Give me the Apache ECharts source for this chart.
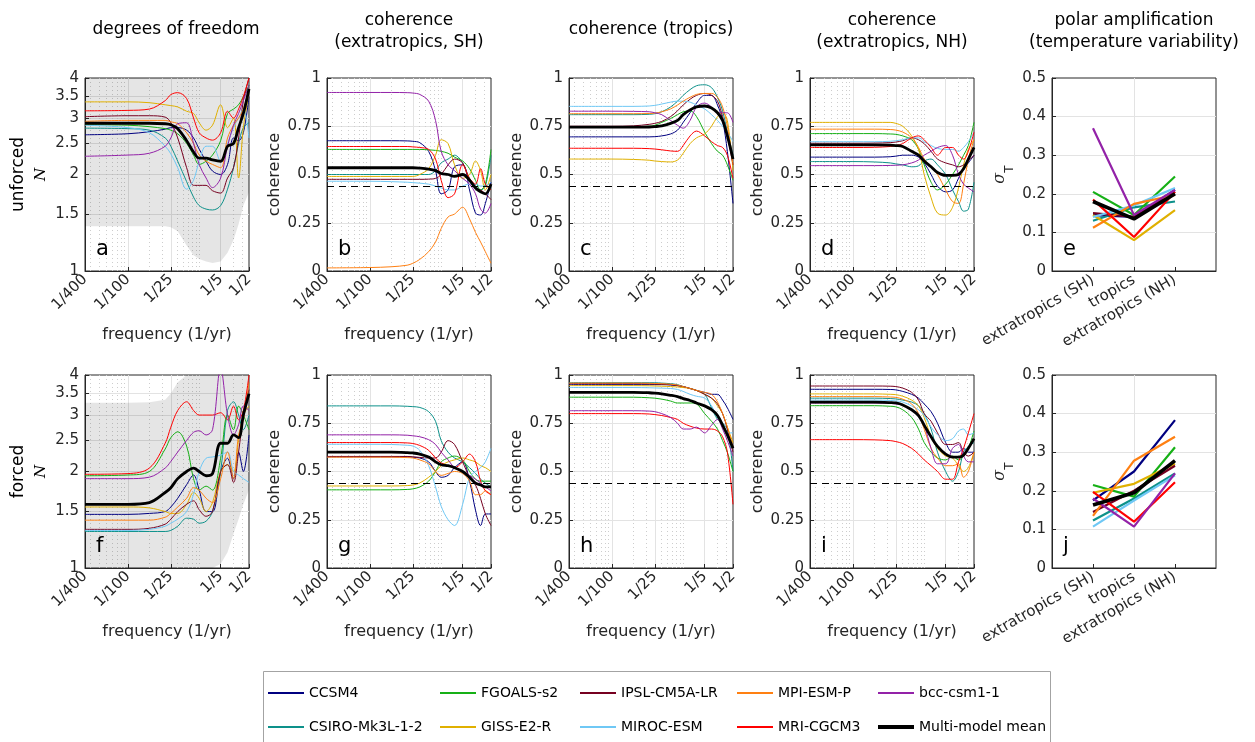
<!DOCTYPE html>
<html>
<head>
<meta charset="utf-8">
<script src="https://cdn.jsdelivr.net/npm/echarts@6/dist/echarts.min.js"></script>
<style>
  html, body { margin: 0; padding: 0; background: #ffffff; }
  #chart { width: 1255px; height: 742px; }
</style>
</head>
<body>
<div id="chart"></div>
<script>
// ---------- data ----------
// spectral sampling points, given as periods (years); frequency = 1 / period
const periods = [400, 100, 50, 30, 25, 20, 15, 12, 10, 8, 6.5, 5, 4, 3.3, 2.8, 2.4, 2];
const tickPeriods = [400, 100, 25, 5, 2];
const tickLabels = ['1/400', '1/100', '1/25', '1/5', '1/2'];
const minorFreqs = [0.003, 0.004, 0.005, 0.006, 0.007, 0.008, 0.009, 0.02, 0.03, 0.05, 0.06, 0.07, 0.08, 0.09, 0.1, 0.3, 0.4];
const dofTicks = [1, 1.5, 2, 2.5, 3, 3.5, 4];
const regions = ['extratropics (SH)', 'tropics', 'extratropics (NH)'];
const sigLevel = 0.44;

// model order for every table below
const models = ['CCSM4', 'CSIRO-Mk3L-1-2', 'FGOALS-s2', 'GISS-E2-R', 'IPSL-CM5A-LR',
                'MIROC-ESM', 'MPI-ESM-P', 'MRI-CGCM3', 'bcc-csm1-1', 'Multi-model mean'];

// (a) degrees of freedom, unforced
const dofUnforced = [
  [2.66, 2.68, 2.72, 2.77, 2.8, 2.8, 2.75, 2.6, 2.4, 2.2, 2.05, 2.0, 2.15, 2.6, 2.55, 2.7, 3.5],
  [2.79, 2.78, 2.75, 2.6, 2.45, 2.2, 1.9, 1.7, 1.6, 1.56, 1.55, 1.6, 1.8, 2.1, 2.5, 2.8, 2.9],
  [2.86, 2.85, 2.82, 2.78, 2.75, 2.68, 2.5, 2.3, 2.15, 2.2, 2.3, 2.55, 3.1, 3.2, 3.3, 3.5, 3.8],
  [3.37, 3.37, 3.35, 3.3, 3.28, 3.25, 3.15, 3.1, 2.9, 2.75, 2.85, 3.3, 2.8, 3.0, 1.95, 2.8, 3.6],
  [3.03, 3.05, 3.05, 3.02, 2.9, 2.6, 2.1, 1.85, 1.85, 1.85, 1.78, 1.75, 1.95, 2.1, 2.6, 3.4, 4.0],
  [2.85, 2.8, 2.7, 2.45, 2.32, 2.1, 1.8, 1.92, 2.2, 2.45, 2.45, 2.2, 2.5, 2.8, 3.0, 3.2, 2.6],
  [2.93, 2.95, 2.95, 2.95, 2.92, 2.88, 2.7, 2.5, 2.3, 2.2, 2.15, 2.1, 2.6, 2.85, 3.0, 3.2, 3.7],
  [3.16, 3.17, 3.2, 3.4, 3.55, 3.6, 3.45, 3.0, 2.7, 2.6, 2.56, 2.7, 3.15, 3.0, 3.2, 3.5, 4.0],
  [2.28, 2.3, 2.33, 2.45, 2.6, 2.88, 2.9, 2.5, 2.15, 1.95, 1.82, 1.95, 2.45, 2.85, 3.1, 3.4, 3.8],
  [2.89, 2.89, 2.89, 2.88, 2.86, 2.78, 2.55, 2.35, 2.25, 2.25, 2.22, 2.2, 2.45, 2.5, 2.8, 3.1, 3.7]
];
const dofUnforcedLow  = [1.38, 1.38, 1.38, 1.38, 1.37, 1.33, 1.2, 1.12, 1.09, 1.07, 1.06, 1.07, 1.14, 1.25, 1.4, 1.6, 1.76];
const dofUnforcedHigh = [4, 4, 4, 4, 4, 4, 4, 4, 4, 4, 4, 4, 4, 4, 4, 4, 4];

// (b) coherence, extratropics SH, unforced
const cohSHUnforced = [
  [0.675, 0.675, 0.675, 0.674, 0.672, 0.665, 0.62, 0.52, 0.40, 0.42, 0.54, 0.55, 0.42, 0.30, 0.29, 0.35, 0.46],
  [0.5, 0.5, 0.5, 0.5, 0.5, 0.5, 0.5, 0.52, 0.56, 0.58, 0.6, 0.56, 0.48, 0.44, 0.42, 0.44, 0.6],
  [0.63, 0.63, 0.63, 0.63, 0.63, 0.63, 0.628, 0.625, 0.62, 0.61, 0.59, 0.57, 0.53, 0.47, 0.42, 0.45, 0.63],
  [0.49, 0.49, 0.49, 0.49, 0.49, 0.5, 0.53, 0.6, 0.68, 0.66, 0.55, 0.48, 0.5, 0.57, 0.52, 0.42, 0.5],
  [0.475, 0.475, 0.475, 0.475, 0.475, 0.475, 0.476, 0.48, 0.5, 0.55, 0.58, 0.56, 0.47, 0.43, 0.42, 0.40, 0.37],
  [0.465, 0.465, 0.463, 0.46, 0.458, 0.455, 0.45, 0.44, 0.43, 0.42, 0.42, 0.44, 0.45, 0.45, 0.44, 0.44, 0.46],
  [0.016, 0.018, 0.022, 0.03, 0.04, 0.06, 0.1, 0.15, 0.22, 0.28, 0.295, 0.33, 0.27, 0.2, 0.15, 0.1, 0.04],
  [0.645, 0.645, 0.645, 0.645, 0.643, 0.64, 0.63, 0.58, 0.47, 0.38, 0.40, 0.55, 0.48, 0.45, 0.53, 0.45, 0.42],
  [0.925, 0.925, 0.925, 0.924, 0.922, 0.915, 0.88, 0.78, 0.62, 0.55, 0.52, 0.48, 0.45, 0.40, 0.32, 0.30, 0.35],
  [0.535, 0.535, 0.535, 0.535, 0.535, 0.533, 0.528, 0.52, 0.505, 0.5, 0.49, 0.5, 0.47, 0.43, 0.41, 0.40, 0.45]
];

// (c) coherence, tropics, unforced
const cohTropUnforced = [
  [0.695, 0.695, 0.695, 0.695, 0.696, 0.7, 0.71, 0.73, 0.77, 0.82, 0.87, 0.91, 0.91, 0.86, 0.78, 0.62, 0.35],
  [0.81, 0.81, 0.81, 0.812, 0.815, 0.825, 0.85, 0.88, 0.91, 0.94, 0.96, 0.965, 0.95, 0.9, 0.83, 0.72, 0.6],
  [0.748, 0.748, 0.748, 0.75, 0.755, 0.77, 0.79, 0.81, 0.825, 0.83, 0.8, 0.72, 0.66, 0.62, 0.6, 0.55, 0.47],
  [0.58, 0.58, 0.578, 0.574, 0.57, 0.567, 0.565, 0.575, 0.61, 0.66, 0.69, 0.71, 0.75, 0.8, 0.82, 0.78, 0.52],
  [0.75, 0.75, 0.752, 0.76, 0.765, 0.775, 0.8, 0.83, 0.86, 0.89, 0.91, 0.92, 0.91, 0.88, 0.8, 0.7, 0.55],
  [0.853, 0.853, 0.853, 0.855, 0.858, 0.865, 0.875, 0.88, 0.88, 0.875, 0.86, 0.84, 0.81, 0.78, 0.75, 0.72, 0.67],
  [0.815, 0.815, 0.815, 0.816, 0.818, 0.825, 0.84, 0.86, 0.88, 0.9, 0.915, 0.92, 0.92, 0.9, 0.85, 0.75, 0.55],
  [0.636, 0.636, 0.636, 0.634, 0.632, 0.628, 0.622, 0.62, 0.65, 0.7, 0.725, 0.7, 0.67, 0.65, 0.64, 0.6, 0.48],
  [0.828, 0.828, 0.827, 0.825, 0.82, 0.81, 0.78, 0.755, 0.74, 0.78, 0.85, 0.87, 0.85, 0.82, 0.82, 0.82, 0.77],
  [0.745, 0.745, 0.745, 0.746, 0.748, 0.752, 0.765, 0.78, 0.81, 0.835, 0.85, 0.855, 0.845, 0.82, 0.78, 0.7, 0.58]
];

// (d) coherence, extratropics NH, unforced
const cohNHUnforced = [
  [0.59, 0.59, 0.59, 0.592, 0.595, 0.6, 0.6, 0.59, 0.56, 0.5, 0.44, 0.41, 0.42, 0.48, 0.53, 0.56, 0.6],
  [0.567, 0.567, 0.565, 0.56, 0.555, 0.55, 0.54, 0.545, 0.57, 0.58, 0.55, 0.5, 0.42, 0.36, 0.31, 0.32, 0.46],
  [0.712, 0.712, 0.712, 0.71, 0.708, 0.7, 0.68, 0.63, 0.55, 0.46, 0.42, 0.45, 0.5, 0.55, 0.6, 0.65, 0.77],
  [0.77, 0.77, 0.77, 0.77, 0.765, 0.75, 0.7, 0.63, 0.5, 0.38, 0.3, 0.29, 0.33, 0.43, 0.55, 0.63, 0.68],
  [0.662, 0.662, 0.663, 0.665, 0.668, 0.675, 0.69, 0.68, 0.66, 0.62, 0.58, 0.56, 0.55, 0.54, 0.55, 0.57, 0.6],
  [0.67, 0.67, 0.67, 0.672, 0.675, 0.68, 0.69, 0.69, 0.67, 0.65, 0.635, 0.63, 0.63, 0.62, 0.64, 0.67, 0.72],
  [0.735, 0.735, 0.735, 0.733, 0.73, 0.72, 0.69, 0.64, 0.58, 0.54, 0.5, 0.42, 0.36, 0.35, 0.45, 0.58, 0.68],
  [0.64, 0.64, 0.641, 0.645, 0.65, 0.66, 0.69, 0.7, 0.68, 0.64, 0.6, 0.64, 0.64, 0.6, 0.58, 0.62, 0.72],
  [0.546, 0.546, 0.546, 0.547, 0.548, 0.55, 0.56, 0.575, 0.6, 0.62, 0.64, 0.65, 0.6, 0.5, 0.45, 0.43, 0.41],
  [0.653, 0.653, 0.653, 0.652, 0.65, 0.645, 0.62, 0.6, 0.57, 0.54, 0.51, 0.495, 0.495, 0.5, 0.53, 0.58, 0.64]
];

// (e) temperature variability by region, unforced: [SH, tropics, NH]
const sigmaUnforced = [
  [0.145, 0.14, 0.21], [0.13, 0.165, 0.18], [0.205, 0.145, 0.245], [0.145, 0.08, 0.158],
  [0.15, 0.14, 0.205], [0.14, 0.17, 0.215], [0.112, 0.174, 0.197], [0.185, 0.088, 0.205],
  [0.37, 0.145, 0.21], [0.18, 0.135, 0.2]
];

// (f) degrees of freedom, forced
const dofForced = [
  [1.47, 1.47, 1.48, 1.5, 1.55, 1.65, 1.82, 1.95, 1.75, 1.5, 1.5, 2.0, 2.2, 1.9, 2.3, 2.0, 2.6],
  [1.3, 1.3, 1.3, 1.3, 1.31, 1.35, 1.43, 1.42, 1.38, 1.4, 1.5, 2.0, 3.1, 3.3, 3.0, 2.7, 3.0],
  [1.94, 1.95, 2.0, 2.35, 2.55, 2.66, 2.4, 1.9, 1.75, 1.8, 1.75, 2.2, 3.0, 2.7, 3.2, 3.0, 2.7],
  [1.55, 1.55, 1.54, 1.5, 1.48, 1.48, 1.58, 1.72, 1.65, 1.5, 1.6, 2.0, 2.1, 2.0, 2.5, 3.0, 3.2],
  [1.32, 1.32, 1.33, 1.37, 1.42, 1.5, 1.58, 1.62, 1.52, 1.45, 1.5, 2.0, 2.1, 1.85, 2.3, 3.0, 3.6],
  [1.31, 1.31, 1.32, 1.35, 1.38, 1.42, 1.5, 1.7, 2.0, 2.2, 2.22, 2.25, 2.3, 2.0, 1.95, 1.9, 1.85],
  [1.41, 1.41, 1.41, 1.44, 1.48, 1.55, 1.65, 1.78, 1.75, 1.65, 1.6, 1.9, 2.3, 1.9, 2.6, 2.9, 3.8],
  [1.96, 1.97, 2.05, 2.45, 2.75, 3.1, 3.3, 3.1, 3.0, 3.0, 3.0, 3.05, 2.9, 3.2, 2.9, 3.1, 4.0],
  [1.9, 1.9, 1.92, 2.05, 2.15, 2.3, 2.5, 2.65, 2.68, 2.6, 2.7, 4.2, 3.0, 2.6, 2.8, 3.2, 3.1],
  [1.58, 1.58, 1.6, 1.72, 1.78, 1.9, 2.0, 2.05, 2.0, 1.94, 1.97, 2.45, 2.45, 2.6, 2.55, 3.0, 3.5]
];
const dofForcedLow  = [1, 1, 1, 1, 1, 1, 1, 1, 1, 1, 1, 1.03, 1.12, 1.28, 1.42, 1.58, 1.75];
const dofForcedHigh = [3.28, 3.28, 3.29, 3.35, 3.5, 3.8, 4.3, 4.5, 4.5, 4.5, 4.5, 4.5, 4.5, 4.5, 4.5, 4.5, 4.5];

// (g) coherence, extratropics SH, forced
const cohSHForced = [
  [0.576, 0.576, 0.576, 0.576, 0.574, 0.57, 0.55, 0.5, 0.47, 0.48, 0.52, 0.55, 0.45, 0.3, 0.22, 0.28, 0.28],
  [0.84, 0.84, 0.84, 0.838, 0.836, 0.832, 0.81, 0.76, 0.66, 0.6, 0.57, 0.55, 0.52, 0.49, 0.46, 0.44, 0.42],
  [0.405, 0.405, 0.405, 0.407, 0.41, 0.42, 0.45, 0.5, 0.55, 0.57, 0.58, 0.56, 0.5, 0.46, 0.45, 0.45, 0.45],
  [0.425, 0.425, 0.425, 0.427, 0.43, 0.44, 0.47, 0.5, 0.53, 0.55, 0.56, 0.57, 0.56, 0.55, 0.53, 0.52, 0.5],
  [0.578, 0.578, 0.578, 0.578, 0.576, 0.573, 0.57, 0.57, 0.6, 0.66, 0.64, 0.55, 0.47, 0.43, 0.36, 0.28, 0.22],
  [0.641, 0.641, 0.64, 0.636, 0.632, 0.61, 0.53, 0.42, 0.32, 0.25, 0.22, 0.33, 0.47, 0.5, 0.52, 0.55, 0.62],
  [0.574, 0.574, 0.574, 0.572, 0.57, 0.56, 0.54, 0.5, 0.48, 0.49, 0.5, 0.49, 0.45, 0.38, 0.38, 0.4, 0.38],
  [0.65, 0.65, 0.65, 0.648, 0.645, 0.635, 0.61, 0.57, 0.545, 0.53, 0.52, 0.55, 0.59, 0.55, 0.45, 0.4, 0.38],
  [0.69, 0.69, 0.69, 0.688, 0.685, 0.68, 0.665, 0.64, 0.6, 0.56, 0.52, 0.5, 0.48, 0.46, 0.44, 0.42, 0.4],
  [0.6, 0.6, 0.6, 0.598, 0.596, 0.59, 0.575, 0.55, 0.535, 0.53, 0.52, 0.5, 0.47, 0.44, 0.43, 0.42, 0.42]
];

// (h) coherence, tropics, forced
const cohTropForced = [
  [0.95, 0.95, 0.95, 0.95, 0.95, 0.95, 0.948, 0.945, 0.94, 0.93, 0.92, 0.91, 0.9, 0.9, 0.87, 0.83, 0.77],
  [0.96, 0.96, 0.96, 0.96, 0.96, 0.958, 0.955, 0.95, 0.94, 0.93, 0.92, 0.9, 0.83, 0.77, 0.75, 0.72, 0.5],
  [0.885, 0.885, 0.885, 0.882, 0.88, 0.875, 0.865, 0.855, 0.855, 0.855, 0.85, 0.8, 0.76, 0.72, 0.66, 0.6, 0.5],
  [0.945, 0.945, 0.945, 0.944, 0.943, 0.942, 0.94, 0.938, 0.935, 0.93, 0.92, 0.9, 0.88, 0.84, 0.8, 0.73, 0.65],
  [0.955, 0.955, 0.955, 0.954, 0.953, 0.952, 0.95, 0.945, 0.94, 0.93, 0.92, 0.9, 0.88, 0.85, 0.8, 0.72, 0.6],
  [0.935, 0.935, 0.935, 0.934, 0.933, 0.932, 0.93, 0.925, 0.915, 0.9, 0.89, 0.88, 0.84, 0.78, 0.75, 0.7, 0.7],
  [0.958, 0.958, 0.958, 0.957, 0.956, 0.955, 0.952, 0.948, 0.94, 0.93, 0.92, 0.91, 0.9, 0.86, 0.8, 0.73, 0.63],
  [0.8, 0.8, 0.8, 0.798, 0.795, 0.79, 0.78, 0.77, 0.75, 0.735, 0.725, 0.72, 0.72, 0.71, 0.68, 0.6, 0.33],
  [0.815, 0.815, 0.815, 0.813, 0.81, 0.8, 0.78, 0.75, 0.72, 0.72, 0.73, 0.7, 0.74, 0.77, 0.72, 0.66, 0.58],
  [0.91, 0.91, 0.91, 0.908, 0.906, 0.902, 0.895, 0.888, 0.878, 0.868, 0.855, 0.84, 0.82, 0.79, 0.74, 0.69, 0.62]
];

// (i) coherence, extratropics NH, forced
const cohNHForced = [
  [0.926, 0.926, 0.926, 0.925, 0.923, 0.915, 0.9, 0.88, 0.85, 0.81, 0.75, 0.65, 0.6, 0.6, 0.62, 0.6, 0.6],
  [0.88, 0.88, 0.88, 0.878, 0.876, 0.87, 0.86, 0.84, 0.8, 0.72, 0.6, 0.5, 0.45, 0.5, 0.6, 0.63, 0.65],
  [0.841, 0.841, 0.841, 0.838, 0.835, 0.82, 0.78, 0.72, 0.65, 0.6, 0.57, 0.56, 0.58, 0.56, 0.58, 0.62, 0.71],
  [0.902, 0.902, 0.902, 0.9, 0.898, 0.89, 0.87, 0.84, 0.78, 0.68, 0.62, 0.58, 0.57, 0.53, 0.5, 0.52, 0.6],
  [0.943, 0.943, 0.943, 0.942, 0.94, 0.932, 0.91, 0.87, 0.8, 0.76, 0.7, 0.64, 0.64, 0.65, 0.6, 0.58, 0.6],
  [0.87, 0.87, 0.87, 0.868, 0.866, 0.86, 0.84, 0.82, 0.79, 0.73, 0.69, 0.66, 0.67, 0.71, 0.72, 0.69, 0.7],
  [0.888, 0.888, 0.888, 0.886, 0.884, 0.875, 0.85, 0.8, 0.72, 0.62, 0.57, 0.53, 0.53, 0.54, 0.47, 0.5, 0.6],
  [0.665, 0.665, 0.664, 0.66, 0.655, 0.645, 0.62, 0.59, 0.56, 0.53, 0.5, 0.46, 0.46, 0.55, 0.62, 0.7, 0.8],
  [0.855, 0.855, 0.855, 0.853, 0.85, 0.845, 0.82, 0.79, 0.74, 0.62, 0.54, 0.54, 0.62, 0.64, 0.58, 0.55, 0.55],
  [0.859, 0.859, 0.859, 0.857, 0.855, 0.845, 0.82, 0.79, 0.74, 0.68, 0.63, 0.59, 0.575, 0.575, 0.585, 0.62, 0.67]
];

// (j) temperature variability by region, forced: [SH, tropics, NH]
const sigmaForced = [
  [0.175, 0.25, 0.383], [0.123, 0.18, 0.245], [0.215, 0.185, 0.313], [0.195, 0.218, 0.27],
  [0.145, 0.2, 0.265], [0.107, 0.175, 0.24], [0.135, 0.278, 0.34], [0.197, 0.12, 0.222],
  [0.18, 0.107, 0.245], [0.163, 0.195, 0.278]
];

// ---------- styling ----------
const colors = ['#000080', '#0d918a', '#16b016', '#e0b000', '#760020',
                '#6fc8f5', '#ff8012', '#ff0000', '#9322a8', '#000000'];
const FONT = '"DejaVu Sans", "Liberation Sans", sans-serif';
const INK = '#262626';
const colLeft = [85, 327, 569, 810, 1052];
const rowTop = [78, 375];
const PW = 164, PH = 193;

const freqs = periods.map(p => 1 / p);
const tickFreqs = tickPeriods.map(p => 1 / p);
const fMin = tickFreqs[0], fMax = tickFreqs[tickFreqs.length - 1];
const dofMin = dofTicks[0], dofMax = dofTicks[dofTicks.length - 1];

function freqLabel(v) {
  for (let i = 0; i < tickFreqs.length; i++) {
    if (Math.abs(v / tickFreqs[i] - 1) < 1e-6) return tickLabels[i];
  }
  return '';
}

const panels = [
  { kind: 'dof', row: 0, col: 0, vals: dofUnforced, low: dofUnforcedLow, high: dofUnforcedHigh, letter: 'a', rowName: 'unforced' },
  { kind: 'coh', row: 0, col: 1, vals: cohSHUnforced, letter: 'b' },
  { kind: 'coh', row: 0, col: 2, vals: cohTropUnforced, letter: 'c' },
  { kind: 'coh', row: 0, col: 3, vals: cohNHUnforced, letter: 'd' },
  { kind: 'sig', row: 0, col: 4, vals: sigmaUnforced, letter: 'e' },
  { kind: 'dof', row: 1, col: 0, vals: dofForced, low: dofForcedLow, high: dofForcedHigh, letter: 'f', rowName: 'forced' },
  { kind: 'coh', row: 1, col: 1, vals: cohSHForced, letter: 'g' },
  { kind: 'coh', row: 1, col: 2, vals: cohTropForced, letter: 'h' },
  { kind: 'coh', row: 1, col: 3, vals: cohNHForced, letter: 'i' },
  { kind: 'sig', row: 1, col: 4, vals: sigmaForced, letter: 'j' }
];

const columnTitles = [
  'degrees of freedom',
  'coherence\n(extratropics, SH)',
  'coherence (tropics)',
  'coherence\n(extratropics, NH)',
  'polar amplification\n(temperature variability)'
];
const titleX = [176, 409, 651, 892, 1134];

const option = {
  animation: false,
  backgroundColor: '#ffffff',
  grid: [], xAxis: [], yAxis: [], series: [], legend: [], graphic: []
};

const labelBase = { color: INK, fontFamily: FONT, fontSize: 15 };
const nameBase = { color: INK, fontFamily: FONT, fontSize: 16 };
const gridLine = { show: true, showMinLine: false, showMaxLine: false, lineStyle: { color: '#e3e3e3', width: 1 } };
const tickBase = { show: true, inside: true, length: 4, lineStyle: { color: INK } };

panels.forEach((p, gi) => {
  const left = colLeft[p.col], top = rowTop[p.row];
  option.grid.push({
    left, top, width: PW, height: PH, show: true,
    borderColor: INK, borderWidth: 1, backgroundColor: 'transparent',
    containLabel: false, outerBoundsMode: 'none'
  });

  let xi;
  if (p.kind !== 'sig') {
    xi = option.xAxis.length;
    option.xAxis.push({
      type: 'log', logBase: 10, gridIndex: gi, min: fMin, max: fMax,
      axisLine: { show: true, lineStyle: { color: INK } },
      axisTick: Object.assign({}, tickBase, { customValues: tickFreqs }),
      axisLabel: Object.assign({}, labelBase, { customValues: tickFreqs, rotate: 45, margin: 6, formatter: freqLabel }),
      splitLine: gridLine,
      name: 'frequency (1/yr)', nameLocation: 'middle', nameGap: 56, nameTextStyle: nameBase
    });
    // dotted minor grid on the log frequency axis
    option.xAxis.push({
      type: 'log', logBase: 10, gridIndex: gi, min: fMin, max: fMax, position: 'bottom',
      axisLine: { show: false }, axisLabel: { show: false },
      axisTick: { show: false, customValues: minorFreqs },
      splitLine: { show: true, lineStyle: { color: '#cdcdcd', width: 1, type: [1, 3] } }
    });
  } else {
    xi = option.xAxis.length;
    const pos = regions.map((r, i) => i + 1);
    option.xAxis.push({
      type: 'value', gridIndex: gi, min: 0, max: regions.length + 1,
      axisLine: { show: true, lineStyle: { color: INK } },
      axisTick: Object.assign({}, tickBase, { customValues: pos }),
      axisLabel: Object.assign({}, labelBase, {
        customValues: pos, rotate: 30, margin: 8,
        formatter: v => regions[Math.round(v) - 1] || ''
      }),
      splitLine: gridLine
    });
  }

  const yi = option.yAxis.length;
  if (p.kind === 'dof') {
    option.yAxis.push({
      type: 'log', logBase: 10, gridIndex: gi, min: dofMin, max: dofMax,
      axisLine: { show: true, lineStyle: { color: INK } },
      axisTick: Object.assign({}, tickBase, { customValues: dofTicks }),
      axisLabel: Object.assign({}, labelBase, { customValues: dofTicks, margin: 6, formatter: v => String(+v.toFixed(2)) }),
      splitLine: gridLine,
      name: '{r|' + p.rowName + '}\n{n|N}', nameLocation: 'middle', nameRotate: 90, nameGap: 33,
      nameTextStyle: {
        rich: {
          r: { fontSize: 17, fontFamily: FONT, color: '#000', lineHeight: 22, align: 'center' },
          n: { fontSize: 15, fontFamily: '"DejaVu Serif", serif', fontStyle: 'italic', color: '#000', lineHeight: 22, align: 'center' }
        }
      }
    });
  } else if (p.kind === 'coh') {
    option.yAxis.push({
      type: 'value', gridIndex: gi, min: 0, max: 1, interval: 0.25,
      axisLine: { show: true, lineStyle: { color: INK } },
      axisTick: tickBase,
      axisLabel: Object.assign({}, labelBase, { margin: 6 }),
      splitLine: gridLine,
      name: 'coherence', nameLocation: 'middle', nameGap: 44, nameTextStyle: nameBase
    });
  } else {
    option.yAxis.push({
      type: 'value', gridIndex: gi, min: 0, max: 0.5, interval: 0.1,
      axisLine: { show: true, lineStyle: { color: INK } },
      axisTick: tickBase,
      axisLabel: Object.assign({}, labelBase, { margin: 6 }),
      splitLine: gridLine,
      name: '{s|σ}{t|T}', nameLocation: 'middle', nameGap: 36,
      nameTextStyle: {
        rich: {
          s: { fontSize: 16, fontFamily: '"DejaVu Serif", serif', fontStyle: 'italic', color: INK, lineHeight: 24, verticalAlign: 'top' },
          t: { fontSize: 12, fontFamily: FONT, color: INK, lineHeight: 24, verticalAlign: 'bottom' }
        }
      }
    });
  }

  // shaded range for degrees of freedom: polygon between the low and high bounds
  if (p.kind === 'dof') {
    const lowB = p.low, highB = p.high;
    option.series.push({
      type: 'custom', xAxisIndex: xi, yAxisIndex: yi, silent: true, clip: true, z: 1,
      data: [[freqs[0], lowB[0]]],
      renderItem: (params, api) => {
        const up = highB.map((v, i) => api.coord([freqs[i], Math.min(v, dofMax)]));
        const dn = lowB.map((v, i) => api.coord([freqs[i], Math.max(v, dofMin)])).reverse();
        return {
          type: 'polygon',
          shape: { points: up.concat(dn) },
          style: { fill: 'rgba(0,0,0,0.1)', stroke: null }
        };
      }
    });
  }

  models.forEach((name, m) => {
    const isMean = m === models.length - 1;
    const s = {
      name, type: 'line', xAxisIndex: xi, yAxisIndex: yi, silent: true,
      symbol: 'none', showSymbol: false, itemStyle: { color: colors[m] },
      z: isMean ? 4 : 3
    };
    if (p.kind === 'sig') {
      s.data = p.vals[m].map((v, i) => [i + 1, v]);
      s.lineStyle = { color: colors[m], width: isMean ? 3.6 : 2.2 };
    } else {
      s.data = p.vals[m].map((v, i) => [freqs[i], v]);
      s.smooth = 0.35;
      s.lineStyle = { color: colors[m], width: isMean ? 2.8 : 1 };
      if (isMean && p.kind === 'coh') {
        s.markLine = {
          silent: true, symbol: 'none', label: { show: false }, animation: false,
          lineStyle: { color: '#000', width: 1, type: [7, 5] },
          data: [{ yAxis: sigLevel }]
        };
      }
    }
    option.series.push(s);
  });

  option.graphic.push({
    type: 'text', x: left + 11, y: top + PH - 21, z: 10,
    style: { text: p.letter, fill: '#000', fontSize: 21, fontFamily: FONT, align: 'left', verticalAlign: 'middle' }
  });
});

columnTitles.forEach((t, c) => {
  const twoLines = t.indexOf('\n') >= 0;
  option.graphic.push({
    type: 'text', x: titleX[c], y: twoLines ? 32 : 30,
    style: { text: t, fill: '#000', fontSize: 17, fontFamily: FONT, align: 'center', verticalAlign: 'middle', lineHeight: 22 }
  });
});

// legend frame
option.graphic.push({
  type: 'rect', z: 1,
  shape: { x: 263.5, y: 671.5, width: 787, height: 90 },
  style: { fill: '#ffffff', stroke: '#a3a3a3', lineWidth: 1 }
});

// one legend entry per box: 5 columns x 2 rows, column-wise model order
const legendX = [268, 440, 580, 737, 878];
const legendRowY = [686, 720];
models.forEach((name, k) => {
  const col = Math.floor(k / 2), row = k % 2;
  const isMean = k === models.length - 1;
  option.legend.push({
    left: legendX[col], top: legendRowY[row], padding: 0,
    itemWidth: 36, itemHeight: isMean ? 4 : 2, selectedMode: false, z: 5,
    icon: 'rect',
    textStyle: { color: '#000', fontFamily: FONT, fontSize: 14, lineHeight: 14 },
    data: [{ name, icon: 'rect', itemStyle: { color: colors[k] } }]
  });
});

const chart = echarts.init(document.getElementById('chart'), null, { renderer: 'canvas' });
chart.setOption(option);
</script>
</body>
</html>
